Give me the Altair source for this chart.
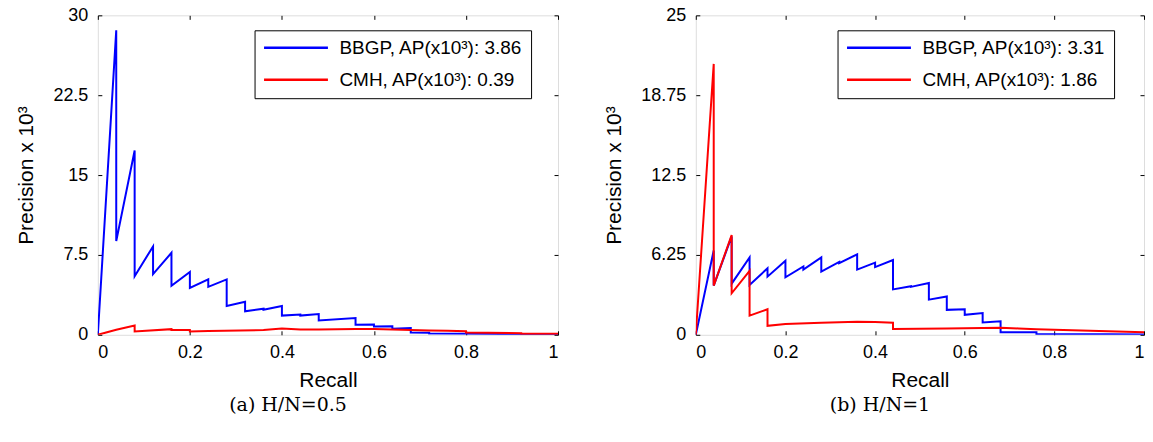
import altair as alt
import pandas as pd

# ---- data ----
# (a) H/N=0.5
LB_R = [0, 0.04, 0.04, 0.08, 0.08, 0.12, 0.12, 0.16, 0.16, 0.20, 0.20, 0.24, 0.24, 0.28, 0.28,
        0.32, 0.32, 0.36, 0.36, 0.40, 0.40, 0.44, 0.44, 0.48, 0.48, 0.56, 0.56, 0.60, 0.60,
        0.64, 0.64, 0.68, 0.68, 0.72, 0.72, 0.80, 0.92, 0.92, 1.00]
LB_P = [0, 28.6, 8.8, 17.3, 5.5, 8.3, 5.7, 7.7, 4.6, 5.9, 4.4, 5.2, 4.5, 5.2, 2.7,
        3.1, 2.2, 2.45, 2.35, 2.7, 1.8, 1.9, 1.8, 1.95, 1.35, 1.57, 0.94, 0.97, 0.78,
        0.8, 0.56, 0.63, 0.22, 0.2, 0.12, 0.1, 0.06, 0.03, 0.02]
LR_R = [0, 0.04, 0.08, 0.08, 0.16, 0.16, 0.20, 0.20, 0.24, 0.36, 0.40, 0.44, 0.48, 0.56,
        0.60, 0.64, 0.68, 0.72, 0.76, 0.80, 0.80, 0.92, 0.92, 1.00]
LR_P = [0, 0.47, 0.88, 0.31, 0.53, 0.44, 0.45, 0.31, 0.35, 0.45, 0.58, 0.5, 0.5, 0.55,
        0.55, 0.5, 0.45, 0.4, 0.37, 0.34, 0.22, 0.15, 0.09, 0.09]

# (b) H/N=1
RB_R = [0, 0.04, 0.04, 0.08, 0.08, 0.12, 0.12, 0.16, 0.16, 0.20, 0.20, 0.24, 0.24, 0.28, 0.28,
        0.32, 0.32, 0.36, 0.36, 0.40, 0.40, 0.44, 0.44, 0.48, 0.48, 0.52, 0.52, 0.56, 0.56,
        0.60, 0.60, 0.64, 0.64, 0.68, 0.68, 0.76, 0.76, 0.92, 1.00]
RB_P = [0, 6.6, 3.85, 7.7, 4.0, 6.05, 3.9, 5.2, 4.55, 5.8, 4.5, 5.35, 5.1, 6.05, 4.95,
        5.7, 5.6, 6.3, 5.1, 5.65, 5.3, 5.85, 3.55, 3.8, 3.75, 4.05, 2.75, 3.0, 1.95,
        2.0, 1.56, 1.7, 0.96, 1.05, 0.2, 0.2, 0.06, 0.04, 0.02]
RR_R = [0, 0.04, 0.04, 0.08, 0.08, 0.12, 0.12, 0.16, 0.16, 0.20, 0.28, 0.36, 0.40, 0.44,
        0.44, 0.56, 0.68, 0.72, 0.76, 0.80, 0.88, 0.96, 1.00]
RR_P = [0, 21.2, 3.85, 7.8, 3.25, 5.0, 1.5, 2.0, 0.7, 0.85, 0.95, 1.02, 1.0, 0.95,
        0.45, 0.5, 0.55, 0.5, 0.44, 0.4, 0.31, 0.23, 0.2]

LEFT_NAMES = ["BBGP, AP(x10³): 3.86", "CMH, AP(x10³): 0.39"]
RIGHT_NAMES = ["BBGP, AP(x10³): 3.31", "CMH, AP(x10³): 1.86"]
LEFT_YTICKS = [0, 7.5, 15, 22.5, 30]
RIGHT_YTICKS = [0, 6.25, 12.5, 18.75, 25]
XTICKS = [0, 0.2, 0.4, 0.6, 0.8, 1]
CAPTIONS = ["(a) H/N=0.5", "(b) H/N=1"]

SANS = "Liberation Sans"
TICK = 4


def frame_df(br, bp, rr, rp, names):
    rows = []
    for i, (r, p) in enumerate(zip(br, bp)):
        rows.append({"recall": r, "precision": p, "series": names[0], "idx": i})
    for i, (r, p) in enumerate(zip(rr, rp)):
        rows.append({"recall": r, "precision": p, "series": names[1], "idx": i})
    return pd.DataFrame(rows)


def panel(df, names, ymax, yticks, width, legend_x, caption):
    xs = alt.Scale(domain=[0, 1], nice=False)
    ys = alt.Scale(domain=[0, ymax], nice=False)
    xa = alt.Axis(values=XTICKS, title="Recall", offset=-TICK, tickSize=TICK, domain=False,
                  grid=False, labelPadding=9, labelFontSize=18, labelFont=SANS,
                  titleFont=SANS, titleFontSize=21, titleFontWeight="normal",
                  titlePadding=8, tickColor="black", labelColor="black", titleColor="black",
                  labelExpr="'' + datum.value")
    ya = alt.Axis(values=yticks, title="Precision x 10³", offset=-TICK, tickSize=TICK,
                  domain=False, grid=False, labelPadding=10, labelFontSize=18, labelFont=SANS,
                  titleFont=SANS, titleFontSize=21, titleFontWeight="normal",
                  titlePadding=16, tickColor="black", labelColor="black", titleColor="black",
                  labelExpr="'' + datum.value")
    lines = alt.Chart(df).mark_line(strokeWidth=2, strokeJoin="miter", clip=True).encode(
        x=alt.X("recall:Q", scale=xs, axis=xa),
        y=alt.Y("precision:Q", scale=ys, axis=ya),
        color=alt.Color("series:N", scale=alt.Scale(domain=names, range=["#0000ff", "#ff0000"]),
                        legend=alt.Legend(title=None, orient="none", legendX=legend_x, legendY=15,
                                          strokeColor="black", fillColor="white",
                                          padding=8, labelFont=SANS, labelFontSize=19,
                                          labelColor="black", labelLimit=400,
                                          symbolType="M-1,0H7", symbolSize=256,
                                          symbolStrokeWidth=2.5, symbolFillColor="transparent",
                                          rowPadding=12, labelOffset=58,
                                          cornerRadius=0)),
        order="idx:Q",
    )
    xa2 = alt.Axis(values=XTICKS, orient="top", title=None, labels=False, offset=-TICK,
                   tickSize=TICK, domain=False, grid=False, tickColor="black")
    ya2 = alt.Axis(values=yticks, orient="right", title=None, labels=False, offset=-TICK,
                   tickSize=TICK, domain=False, grid=False, tickColor="black")
    ghost = alt.Chart(df).mark_point(opacity=0).encode(
        x=alt.X("recall:Q", scale=xs, axis=xa2),
        y=alt.Y("precision:Q", scale=ys, axis=ya2),
    )
    return alt.layer(lines, ghost).resolve_axis(x="independent", y="independent").properties(
        width=width, height=320,
        title=alt.TitleParams(caption, orient="bottom", font="DejaVu Serif", fontSize=19,
                              fontWeight="normal", color="black", anchor="middle",
                              frame="group", dx=-40, offset=5),
    )


left = panel(frame_df(LB_R, LB_P, LR_R, LR_P, LEFT_NAMES), LEFT_NAMES, 30, LEFT_YTICKS,
             461, 157, CAPTIONS[0])
right = panel(frame_df(RB_R, RB_P, RR_R, RR_P, RIGHT_NAMES), RIGHT_NAMES, 25, RIGHT_YTICKS,
              449, 142, CAPTIONS[1])

chart = alt.hconcat(left, right, spacing=41).resolve_scale(
    color="independent", x="independent", y="independent"
).properties(
    padding={"left": 15, "top": 5, "right": 5, "bottom": 5}
).configure_view(stroke="black", strokeWidth=1.2).configure(background="white")

chart.save("out.html", embed_options={"renderer": "svg", "actions": False})
